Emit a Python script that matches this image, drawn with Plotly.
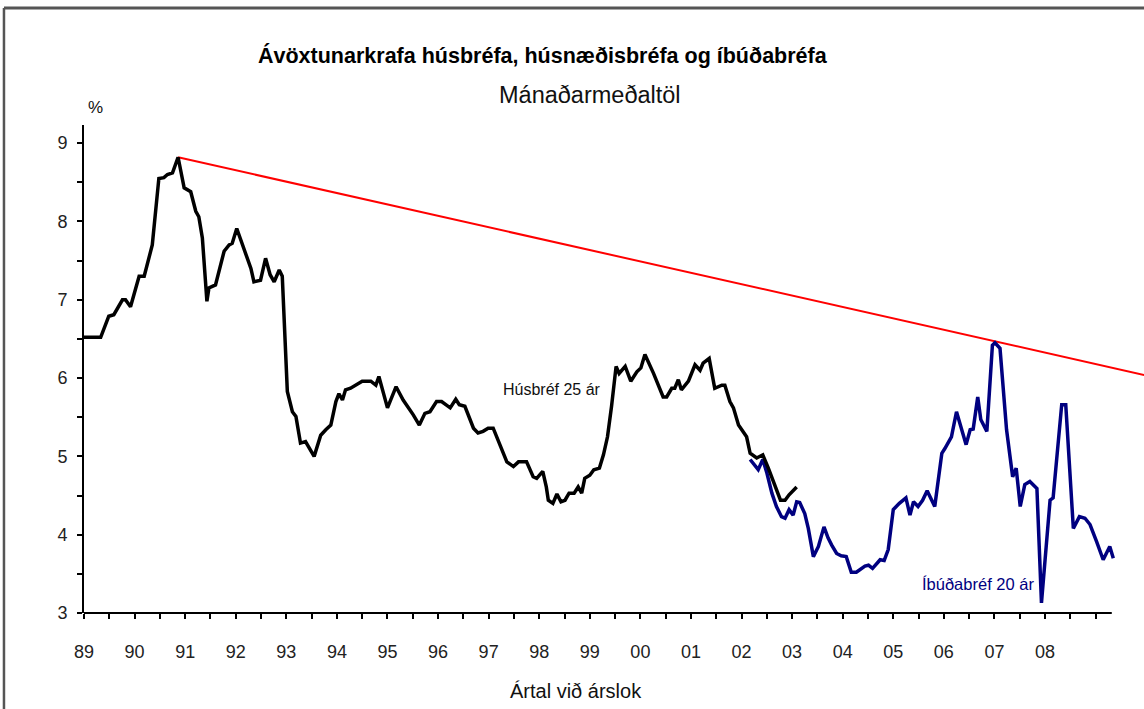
import plotly.graph_objects as go

# ---- data (decimal years; label "89" = 1989.0) ----
hus_x = [1989.00, 1989.33, 1989.49, 1989.59, 1989.76, 1989.82, 1989.92, 1990.09, 1990.19, 1990.35,
         1990.48, 1990.58, 1990.65, 1990.75, 1990.86, 1990.98, 1991.11, 1991.21, 1991.27, 1991.34,
         1991.43, 1991.47, 1991.60, 1991.77, 1991.87, 1991.93, 1992.02, 1992.16, 1992.30, 1992.36,
         1992.49, 1992.59, 1992.68, 1992.76, 1992.86, 1992.92, 1993.02, 1993.12, 1993.19, 1993.28,
         1993.38, 1993.55, 1993.68, 1993.78, 1993.88, 1993.98, 1994.04, 1994.11, 1994.17, 1994.27,
         1994.50, 1994.67, 1994.77, 1994.83, 1995.00, 1995.17, 1995.31, 1995.51, 1995.63, 1995.74,
         1995.84, 1995.97, 1996.07, 1996.24, 1996.35, 1996.42, 1996.53, 1996.70, 1996.79, 1996.89,
         1996.99, 1997.09, 1997.19, 1997.36, 1997.49, 1997.59, 1997.75, 1997.88, 1997.95, 1998.07,
         1998.14, 1998.18, 1998.27, 1998.35, 1998.43, 1998.51, 1998.59, 1998.69, 1998.77, 1998.84,
         1998.90, 1999.00, 1999.08, 1999.19, 1999.27, 1999.35, 1999.43, 1999.52, 1999.58, 1999.70,
         1999.81, 1999.93, 2000.01, 2000.09, 2000.26, 2000.45, 2000.52, 2000.62, 2000.68, 2000.75,
         2000.81, 2000.95, 2001.08, 2001.18, 2001.24, 2001.36, 2001.47, 2001.61, 2001.67, 2001.77,
         2001.84, 2001.94, 2002.10, 2002.17, 2002.30, 2002.42, 2002.53, 2002.66, 2002.77, 2002.86,
         2002.94, 2003.09]
hus_y = [6.52, 6.52, 6.79, 6.81, 7.00, 7.00, 6.91, 7.30, 7.30, 7.70,
         8.55, 8.56, 8.60, 8.62, 8.82, 8.43, 8.38, 8.13, 8.06, 7.79,
         6.98, 7.15, 7.19, 7.62, 7.70, 7.72, 7.91, 7.64, 7.40, 7.23,
         7.25, 7.53, 7.32, 7.23, 7.38, 7.30, 5.83, 5.57, 5.51, 5.17,
         5.19, 5.00, 5.27, 5.34, 5.40, 5.70, 5.80, 5.72, 5.85, 5.87,
         5.96, 5.96, 5.91, 6.02, 5.62, 5.89, 5.72, 5.53, 5.40, 5.55,
         5.57, 5.70, 5.70, 5.62, 5.73, 5.66, 5.64, 5.36, 5.30, 5.32,
         5.36, 5.36, 5.21, 4.93, 4.87, 4.93, 4.93, 4.74, 4.72, 4.81,
         4.61, 4.44, 4.40, 4.52, 4.42, 4.44, 4.53, 4.53, 4.61, 4.53,
         4.72, 4.76, 4.83, 4.85, 5.02, 5.25, 5.64, 6.15, 6.06, 6.15,
         5.96, 6.08, 6.13, 6.30, 6.06, 5.76, 5.76, 5.87, 5.87, 5.98,
         5.85, 5.96, 6.17, 6.10, 6.19, 6.25, 5.87, 5.91, 5.91, 5.70,
         5.62, 5.40, 5.25, 5.04, 4.98, 5.02, 4.85, 4.61, 4.44, 4.44,
         4.51, 4.61]

ibud_x = [2002.17, 2002.33, 2002.42, 2002.50, 2002.60, 2002.69, 2002.79, 2002.86, 2002.94, 2003.02,
          2003.09, 2003.15, 2003.25, 2003.32, 2003.42, 2003.52, 2003.63, 2003.71, 2003.78, 2003.88,
          2003.97, 2004.07, 2004.17, 2004.27, 2004.44, 2004.51, 2004.59, 2004.74, 2004.82, 2004.90,
          2005.00, 2005.12, 2005.25, 2005.33, 2005.40, 2005.49, 2005.58, 2005.67, 2005.82, 2005.96,
          2006.02, 2006.15, 2006.25, 2006.35, 2006.44, 2006.52, 2006.58, 2006.67, 2006.73, 2006.85,
          2006.96, 2007.01, 2007.11, 2007.24, 2007.36, 2007.43, 2007.51, 2007.60, 2007.70, 2007.84,
          2007.93, 2008.10, 2008.16, 2008.33, 2008.41, 2008.56, 2008.68, 2008.79, 2008.89, 2009.02,
          2009.15, 2009.28, 2009.35]
ibud_y = [4.96, 4.83, 4.96, 4.79, 4.53, 4.36, 4.23, 4.21, 4.32, 4.25,
          4.42, 4.41, 4.27, 4.08, 3.72, 3.85, 4.10, 3.96, 3.87, 3.76,
          3.73, 3.72, 3.52, 3.52, 3.60, 3.61, 3.57, 3.68, 3.67, 3.81,
          4.32, 4.40, 4.47, 4.25, 4.42, 4.36, 4.44, 4.56, 4.36, 5.04,
          5.10, 5.25, 5.57, 5.34, 5.15, 5.34, 5.35, 5.76, 5.47, 5.32,
          6.42, 6.45, 6.38, 5.34, 4.74, 4.85, 4.36, 4.64, 4.68, 4.59,
          3.13, 4.44, 4.47, 5.66, 5.66, 4.08, 4.23, 4.21, 4.13, 3.91,
          3.68, 3.85, 3.70]

trend_x = [1990.86, 2009.96]
trend_y = [8.82, 6.04]

year_ticks = list(range(1989, 2009))
year_labels = ["89", "90", "91", "92", "93", "94", "95", "96", "97", "98",
               "99", "00", "01", "02", "03", "04", "05", "06", "07", "08"]
half_ticks = [1989 + 0.5 * i for i in range(0, 41)]
y_ticks = [3, 4, 5, 6, 7, 8, 9]
y_minor = [3.5, 4.5, 5.5, 6.5, 7.5, 8.5]

X_START, X_END = 1989.0, 2009.957
AXIS_END = 2009.32
Y_MIN, Y_MAX = 3.0, 9.232

FONT = "Arial, Liberation Sans, sans-serif"

fig = go.Figure()
fig.add_trace(go.Scatter(x=trend_x, y=trend_y, mode="lines",
                         line=dict(color="#ff0000", width=2), hoverinfo="skip"))
fig.add_trace(go.Scatter(x=ibud_x, y=ibud_y, mode="lines", name="Íbúðabréf 20 ár",
                         line=dict(color="#000080", width=3.5)))
fig.add_trace(go.Scatter(x=hus_x, y=hus_y, mode="lines", name="Húsbréf 25 ár",
                         line=dict(color="#000000", width=3.5)))

fig.update_layout(
    width=1144, height=709,
    margin=dict(l=84, r=0, t=125, b=96),
    paper_bgcolor="white", plot_bgcolor="white",
    showlegend=False,
    font=dict(family=FONT, color="#111111", size=17),
    xaxis=dict(range=[X_START, X_END], showline=False, showgrid=False, zeroline=False,
               tickmode="array", tickvals=year_ticks, ticktext=year_labels,
               ticks="outside", ticklen=5, tickwidth=1.5, tickcolor="black",
               ticklabelstandoff=17,
               tickfont=dict(size=18, color="#222222"),
               minor=dict(tickmode="array", tickvals=half_ticks, ticks="outside",
                          ticklen=5, tickwidth=1.5, tickcolor="black", showgrid=False)),
    yaxis=dict(range=[Y_MIN, Y_MAX], showline=True, linecolor="black", linewidth=2,
               showgrid=False, zeroline=False,
               tickmode="array", tickvals=y_ticks,
               ticks="outside", ticklen=5, tickwidth=1.5, tickcolor="black",
               ticklabelstandoff=6,
               tickfont=dict(size=18, color="#222222"),
               minor=dict(tickmode="array", tickvals=y_minor, ticks="outside",
                          ticklen=5, tickwidth=1.5, tickcolor="black", showgrid=False)),
)

# x axis line (ends before the plotting area's right edge, as in the original)
fig.add_shape(type="line", xref="x", yref="paper", x0=X_START, x1=AXIS_END, y0=0, y1=0,
              line=dict(color="black", width=2), layer="above")

# outer frame (top and left edges visible in the original crop)
fig.add_shape(type="line", xref="paper", yref="paper", x0=-0.0755, x1=1.1, y0=1.2398, y1=1.2398,
              line=dict(color="#555555", width=3), layer="above")
fig.add_shape(type="line", xref="paper", yref="paper", x0=-0.0755, x1=-0.0755, y0=-0.3, y1=1.2398,
              line=dict(color="#555555", width=2.5), layer="above")

fig.add_annotation(text="<b>Ávöxtunarkrafa húsbréfa, húsnæðisbréfa og íbúðabréfa</b>",
                   xref="paper", yref="paper", x=0.433, y=1.143, showarrow=False,
                   font=dict(size=21.5, color="black"), xanchor="center", yanchor="middle")
fig.add_annotation(text="Mánaðarmeðaltöl", xref="paper", yref="paper", x=0.477, y=1.061,
                   showarrow=False, font=dict(size=23.5, color="#111111"),
                   xanchor="center", yanchor="middle")
fig.add_annotation(text="%", xref="paper", yref="paper", x=0.0104, y=1.035, showarrow=False,
                   font=dict(size=17, color="#111111"), xanchor="center", yanchor="middle")
fig.add_annotation(text="Ártal við árslok", xref="paper", yref="paper", x=0.464, y=-0.160,
                   showarrow=False, font=dict(size=20, color="#111111"),
                   xanchor="center", yanchor="middle")
fig.add_annotation(text="Húsbréf 25 ár", x=1998.25, y=5.85, showarrow=False,
                   font=dict(size=16, color="#111111"), xanchor="center", yanchor="middle")
fig.add_annotation(text="Íbúðabréf 20 ár", x=2006.67, y=3.37, showarrow=False,
                   font=dict(size=16.5, color="#000080"), xanchor="center", yanchor="middle")

fig.write_html("out.html", config={"displayModeBar": False},
               post_script="document.body.style.margin='0';document.body.style.overflow='hidden';")
